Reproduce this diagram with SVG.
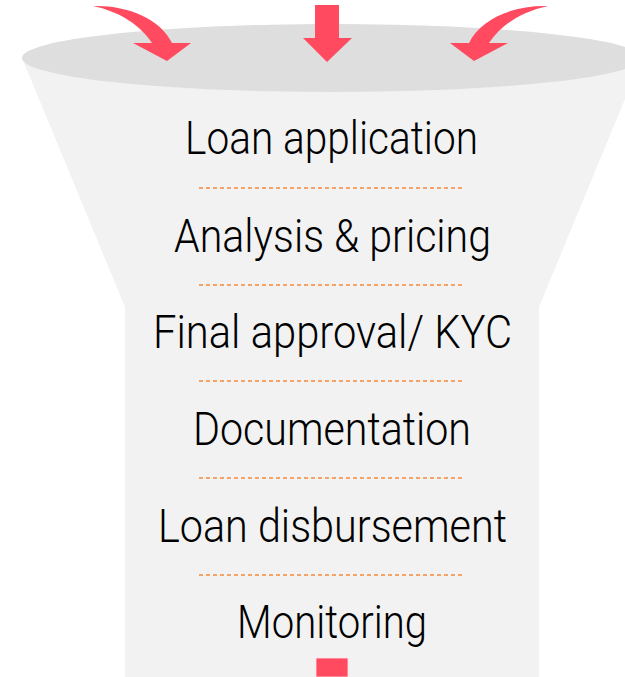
<svg xmlns="http://www.w3.org/2000/svg" width="625" height="677" viewBox="0 0 625 677">
  <style>
    .step { font-family: Roboto, "Liberation Sans", sans-serif; font-weight: 300; font-size: 46px; fill: #000; text-anchor: middle; }
    .sep { stroke: #f58a3c; stroke-width: 1.4; stroke-dasharray: 4 3; fill: none; }
    .arrow { fill: #ff4a5f; }
  </style>

  <!-- funnel body and mouth -->
  <g id="funnel">
    <path d="M22,58 L642,58 L539,307 L539,677 L125,677 L125,307 Z" fill="#f2f2f2"/>
    <ellipse cx="332" cy="58" rx="310" ry="34" fill="#dedede"/>
  </g>

  <!-- inflow arrows -->
  <g id="arrow-left">
    <path class="arrow" d="M93,6 C126,5 160,18 172,43 L191,43 L167,61 L133,43 L152,43 C141,26 121,12 93,6 Z"/>
  </g>
  <g id="arrow-middle">
    <path class="arrow" d="M315,5 L339,5 L339,38 L352,38 L327,62 L303,38 L315,38 Z"/>
  </g>
  <g id="arrow-right">
    <path class="arrow" d="M548,6 C515,5 481,18 469,43 L450,43 L474,61 L508,43 L489,43 C500,26 520,12 548,6 Z"/>
  </g>

  <!-- outflow -->
  <g id="outlet">
    <rect x="316" y="658" width="32" height="19" class="arrow" stroke="#ffe5e8" stroke-width="0.8"/>
  </g>

  <!-- dashed separators between stages -->
  <g id="separators">
    <line class="sep" x1="199" y1="188" x2="463" y2="188"/>
    <line class="sep" x1="199" y1="285" x2="463" y2="285"/>
    <line class="sep" x1="199" y1="381" x2="463" y2="381"/>
    <line class="sep" x1="199" y1="478" x2="463" y2="478"/>
    <line class="sep" x1="199" y1="575" x2="463" y2="575"/>
  </g>

  <!-- stages -->
  <g id="stage-1"><text class="step" x="331.5" y="154" textLength="293" lengthAdjust="spacingAndGlyphs">Loan application</text></g>
  <g id="stage-2"><text class="step" x="332.5" y="252" textLength="317" lengthAdjust="spacingAndGlyphs">Analysis &amp; pricing</text></g>
  <g id="stage-3"><text class="step" x="332.5" y="348" textLength="359" lengthAdjust="spacingAndGlyphs">Final approval/ KYC</text></g>
  <g id="stage-4"><text class="step" x="332" y="445" textLength="278" lengthAdjust="spacingAndGlyphs">Documentation</text></g>
  <g id="stage-5"><text class="step" x="332.5" y="542" textLength="349" lengthAdjust="spacingAndGlyphs">Loan disbursement</text></g>
  <g id="stage-6"><text class="step" x="332" y="638" textLength="190" lengthAdjust="spacingAndGlyphs">Monitoring</text></g>
</svg>
